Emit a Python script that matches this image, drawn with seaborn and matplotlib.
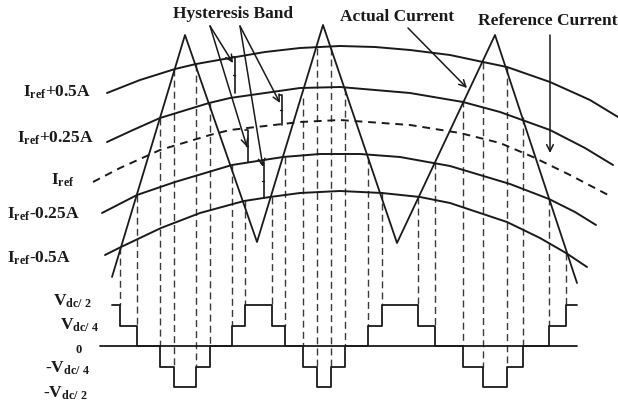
import matplotlib
matplotlib.use("Agg")
import matplotlib.pyplot as plt
import seaborn as sns
import numpy as np

# actual current (triangle), pixel coords
tri_x = [112, 185, 257, 323, 397, 495, 577]
tri_y = [277, 35, 242, 25, 243, 35, 283]

# reference current band (arcs)
arc_p05_x = [107, 140, 175, 196, 230, 265, 300, 340, 375, 410, 450, 483, 507, 550, 590, 618]
arc_p05_y = [93, 80, 69, 64, 58, 52, 48, 46, 47, 50, 55, 62, 67, 82, 100, 117]
arc_p025_x = [107, 133, 160, 209, 230, 300, 340, 410, 463, 500, 550, 585, 613]
arc_p025_y = [142, 130, 118, 103, 98, 88, 87, 93, 102, 112, 130, 148, 165]
arc_ref_x = [93, 120, 160, 210, 230, 300, 340, 410, 460, 500, 533, 570, 612]
arc_ref_y = [182, 168, 150, 135, 130, 122, 120, 125, 133, 143, 157, 175, 197]
arc_m025_x = [102, 137, 175, 232, 283, 320, 360, 400, 450, 510, 549, 575, 596]
arc_m025_y = [213, 195, 182, 165, 157, 154, 154, 157, 166, 184, 199, 212, 225]
arc_m05_x = [105, 121, 161, 200, 244, 270, 300, 340, 382, 420, 450, 507, 540, 566, 587]
arc_m05_y = [255, 247, 228, 213, 201, 197, 193, 191, 193, 197, 203, 222, 238, 253, 267]

# inverter output voltage, levels in units of Vdc/4
step_x = [112, 120, 137, 160, 174, 196, 210, 232, 245, 272, 285, 303, 317, 331,
          345, 368, 382, 418, 435, 463, 483, 507, 523, 549, 566, 577]
step_lvl = [2, 1, 0, -1, -2, -1, 0, 1, 2, 1, 0, -1, -2, -1,
            0, 1, 2, 1, 0, -1, -2, -1, 0, 1, 2, 2]
# top of each dashed switching line (crossing of current with band)
switch_top = [247, 195, 118, 69, 64, 103, 165, 200, 197, 157, 98, 48,
              48, 88, 157, 192, 197, 162, 100, 62, 67, 117, 198, 253]

# hysteresis band markers
band_x = [235, 282, 248, 264]
band_top = [57, 95, 130, 163]
band_bot = [93, 125, 162, 198]

left_labels = [r"$I_{ref}$+0.5A", r"$I_{ref}$+0.25A", r"$I_{ref}$",
               r"$I_{ref}$-0.25A", r"$I_{ref}$-0.5A"]
volt_labels = [r"$V_{dc/\ 2}$", r"$V_{dc/\ 4}$", "0", r"-$V_{dc/\ 4}$", r"-$V_{dc/\ 2}$"]

# layout
ZERO_Y = 346
LEVEL_PX = 20.5
left_pos = [(23, 97), (17, 143), (51, 185), (7, 219), (7, 263)]
volt_pos = [(53, 306), (60, 330), (76, 353), (45, 373), (43, 398)]

sns.set_theme(style="white")
plt.rcParams["font.family"] = ["Liberation Serif", "DejaVu Serif"]
plt.rcParams["font.weight"] = "bold"
plt.rcParams["mathtext.fontset"] = "custom"
plt.rcParams["mathtext.it"] = "Liberation Serif:bold"
plt.rcParams["mathtext.rm"] = "Liberation Serif:bold"
plt.rcParams["mathtext.bf"] = "Liberation Serif:bold"

fig = plt.figure(figsize=(6.18, 4.04), dpi=100)
ax = fig.add_axes([0, 0, 1, 1])
ax.set_xlim(0, 618)
ax.set_ylim(404, 0)
ax.axis("off")

ink = "#1a1a1a"

# dashed switching lines
lvl_y = ZERO_Y - np.array(step_lvl) * LEVEL_PX
for i, top in enumerate(switch_top):
    bot = min(lvl_y[i], lvl_y[i + 1])
    ax.vlines(step_x[i + 1], top, bot, colors="#3a3a3a", lw=1.0,
              linestyles=(0, (5, 3)))

# band arcs
for xs, ys, ls in [(arc_p05_x, arc_p05_y, "-"), (arc_p025_x, arc_p025_y, "-"),
                   (arc_ref_x, arc_ref_y, (0, (4, 3))),
                   (arc_m025_x, arc_m025_y, "-"), (arc_m05_x, arc_m05_y, "-")]:
    sns.lineplot(x=xs, y=ys, sort=False, estimator=None, ax=ax,
                 color=ink, lw=1.4, linestyle=ls)

# actual current
sns.lineplot(x=tri_x, y=tri_y, sort=False, estimator=None, ax=ax, color=ink, lw=1.3)

# zero axis and output voltage
ax.plot([100, step_x[-1]], [ZERO_Y, ZERO_Y], color=ink, lw=1.3)
sns.lineplot(x=step_x, y=lvl_y, sort=False, estimator=None, ax=ax,
             color=ink, lw=1.3, drawstyle="steps-post")

# hysteresis band markers
for bx, bt, bb in zip(band_x, band_top, band_bot):
    ax.plot([bx - 3, bx, bx], [bt, bt, bb], color=ink, lw=1.2)
    ax.plot([bx - 2, bx], [(bt + bb) / 2] * 2, color=ink, lw=1.0)

# annotation arrows
arrow_kw = dict(arrowstyle="->", color=ink, lw=1.1, shrinkA=0, shrinkB=0,
                mutation_scale=12)
for (x0, y0), (x1, y1) in [((210, 26), (233, 63)), ((210, 26), (247, 147)),
                           ((240, 26), (280, 103)), ((240, 26), (263, 167)),
                           ((408, 28), (467, 88)), ((550, 35), (550, 153))]:
    ax.annotate("", xy=(x1, y1), xytext=(x0, y0), arrowprops=arrow_kw)

ax.text(233, 18, "Hysteresis Band", ha="center", va="baseline", fontsize=12.5,
        fontweight="bold", color=ink)
ax.text(397, 21, "Actual Current", ha="center", va="baseline", fontsize=12.5,
        fontweight="bold", color=ink)
ax.text(548, 25, "Reference Current", ha="center", va="baseline", fontsize=12.5,
        fontweight="bold", color=ink)

for lab, (x, y) in zip(left_labels, left_pos):
    ax.text(x, y, lab, ha="left", va="baseline", fontsize=12.5,
            fontweight="bold", color=ink)
for lab, (x, y) in zip(volt_labels, volt_pos):
    ax.text(x, y, lab, ha="left", va="baseline",
            fontsize=9 if lab == "0" else 12.5, fontweight="bold", color=ink)

fig.savefig("out.png", dpi=100, facecolor="white")
